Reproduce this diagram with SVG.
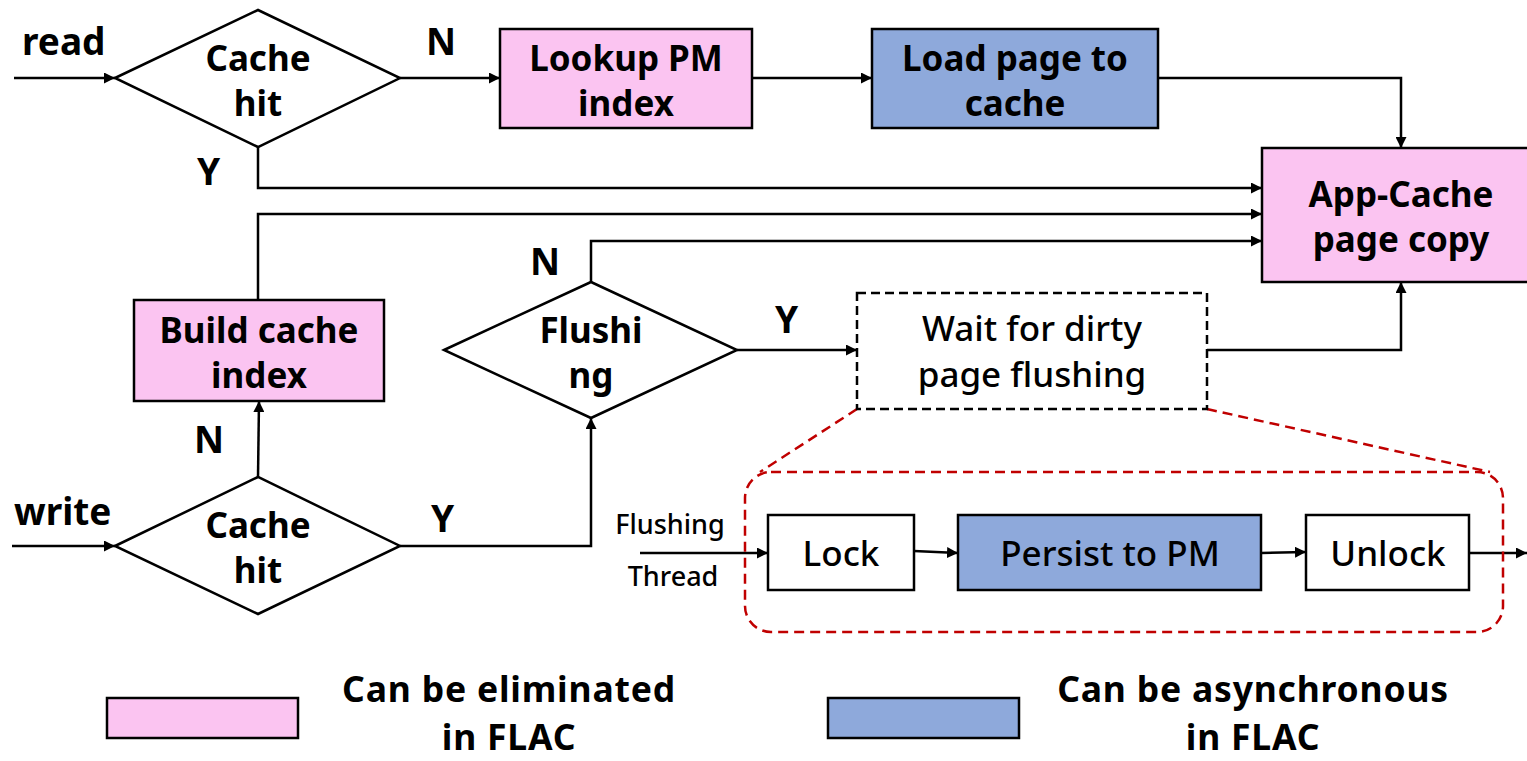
<svg xmlns="http://www.w3.org/2000/svg" width="1527" height="761" viewBox="0 0 1527 761">
  <defs>
    <marker id="arr" viewBox="0 0 10 10" refX="10" refY="5" markerWidth="11" markerHeight="11" markerUnits="userSpaceOnUse" orient="auto">
      <path d="M0,0 L10,5 L0,10 z" fill="#000"/>
    </marker>
    <style>
      text { font-family: "Noto Sans", "Open Sans", sans-serif; font-weight: bold; fill: #000; }
      .t { font-size: 35px; text-anchor: middle; }
      .r { font-weight: 500; }
      .lbl { font-size: 37px; }
      .sm { font-size: 27px; font-weight: 500; text-anchor: middle; }
      .leg { font-size: 35.5px; text-anchor: middle; letter-spacing: 0.8px; }
      .pink { fill: #FBC4F1; stroke: #000; stroke-width: 2.5; }
      .blue { fill: #8EA9DB; stroke: #000; stroke-width: 2.5; }
      .plain { fill: #fff; stroke: #000; stroke-width: 2.5; }
      .dia { fill: #fff; stroke: #000; stroke-width: 2.5; }
      .dash { fill: none; stroke: #000; stroke-width: 2.5; stroke-dasharray: 9 5; }
      .red { fill: none; stroke: #C00000; stroke-width: 2.5; stroke-dasharray: 10 6; }
      .c { fill: none; stroke: #000; stroke-width: 2.5; }
    </style>
  </defs>

  <!-- connectors -->
  <g id="connectors">
    <path class="c" d="M14,78 H115" marker-end="url(#arr)"/>
    <path class="c" d="M400,78 H500" marker-end="url(#arr)"/>
    <path class="c" d="M752,78 H872" marker-end="url(#arr)"/>
    <path class="c" d="M1158,78 H1401 V148" marker-end="url(#arr)"/>
    <path class="c" d="M258,147 V188 H1262" marker-end="url(#arr)"/>
    <path class="c" d="M258,300 V214 H1262" marker-end="url(#arr)"/>
    <path class="c" d="M591,282 V241 H1262" marker-end="url(#arr)"/>
    <path class="c" d="M737,350 H857" marker-end="url(#arr)"/>
    <path class="c" d="M1207,350 H1401 V282" marker-end="url(#arr)"/>
    <path class="c" d="M12,546 H115" marker-end="url(#arr)"/>
    <path class="c" d="M258,477 L259,401" marker-end="url(#arr)"/>
    <path class="c" d="M400,546 H591 V418" marker-end="url(#arr)"/>
    <path class="c" d="M640,553 H768" marker-end="url(#arr)"/>
    <path class="c" d="M914,551 L958,553" marker-end="url(#arr)"/>
    <path class="c" d="M1261,553 L1306,552" marker-end="url(#arr)"/>
    <path class="c" d="M1469,553 H1527" marker-end="url(#arr)"/>
    <!-- zoom guides from the wait box to the flushing-thread detail -->
    <path class="red" d="M857,409 L760,472"/>
    <path class="red" d="M1207,409 L1490,472"/>
  </g>

  <!-- edge labels -->
  <g id="labels">
    <text class="lbl" x="22" y="55">read</text>
    <text class="lbl" x="14" y="525">write</text>
    <text class="lbl" x="426" y="55">N</text>
    <text class="lbl" x="197" y="185">Y</text>
    <text class="lbl" x="530" y="275">N</text>
    <text class="lbl" x="775" y="333">Y</text>
    <text class="lbl" x="194" y="453">N</text>
    <text class="lbl" x="431" y="532">Y</text>
  </g>

  <g id="read-hit">
    <polygon class="dia" points="115,78 258,10 400,78 258,147"/>
    <text class="t" x="258" y="71">Cache</text>
    <text class="t" x="258" y="116">hit</text>
  </g>

  <g id="lookup-pm">
    <rect class="pink" x="500" y="29" width="252" height="99"/>
    <text class="t" x="626" y="71">Lookup PM</text>
    <text class="t" x="626" y="116">index</text>
  </g>

  <g id="load-page">
    <rect class="blue" x="872" y="29" width="286" height="99"/>
    <text class="t" x="1015" y="71">Load page to</text>
    <text class="t" x="1015" y="116">cache</text>
  </g>

  <g id="page-copy">
    <rect class="pink" x="1262" y="148" width="270" height="134"/>
    <text class="t" x="1401" y="207">App-Cache</text>
    <text class="t" x="1401" y="252">page copy</text>
  </g>

  <g id="build-index">
    <rect class="pink" x="134" y="300" width="250" height="101"/>
    <text class="t" x="259" y="343">Build cache</text>
    <text class="t" x="259" y="388">index</text>
  </g>

  <g id="flushing">
    <polygon class="dia" points="444,350 591,282 737,350 591,418"/>
    <text class="t" x="591" y="343">Flushi</text>
    <text class="t" x="591" y="388">ng</text>
  </g>

  <g id="write-hit">
    <polygon class="dia" points="115,546 258,477 400,546 258,614"/>
    <text class="t" x="258" y="538">Cache</text>
    <text class="t" x="258" y="583">hit</text>
  </g>

  <g id="wait-flush">
    <rect class="dash" x="857" y="293" width="350" height="116"/>
    <text class="t r" x="1032" y="341">Wait for dirty</text>
    <text class="t r" x="1032" y="387">page flushing</text>
  </g>

  <g id="flush-thread">
    <rect class="red" x="745" y="472" width="758" height="160" rx="26"/>
    <text class="sm" x="670" y="534">Flushing</text>
    <text class="sm" x="673" y="586">Thread</text>
  </g>

  <g id="lock">
    <rect class="plain" x="768" y="515" width="146" height="75"/>
    <text class="t r" x="841" y="566">Lock</text>
  </g>

  <g id="persist">
    <rect class="blue" x="958" y="515" width="303" height="75"/>
    <text class="t r" x="1110" y="566">Persist to PM</text>
  </g>

  <g id="unlock">
    <rect class="plain" x="1306" y="515" width="163" height="75"/>
    <text class="t r" x="1388" y="566">Unlock</text>
  </g>

  <g id="legend">
    <rect class="pink" x="107" y="698" width="191" height="40"/>
    <text class="leg" x="509" y="702">Can be eliminated</text>
    <text class="leg" x="509" y="750">in FLAC</text>
    <rect class="blue" x="828" y="698" width="191" height="40"/>
    <text class="leg" x="1253" y="702">Can be asynchronous</text>
    <text class="leg" x="1253" y="750">in FLAC</text>
  </g>
</svg>
